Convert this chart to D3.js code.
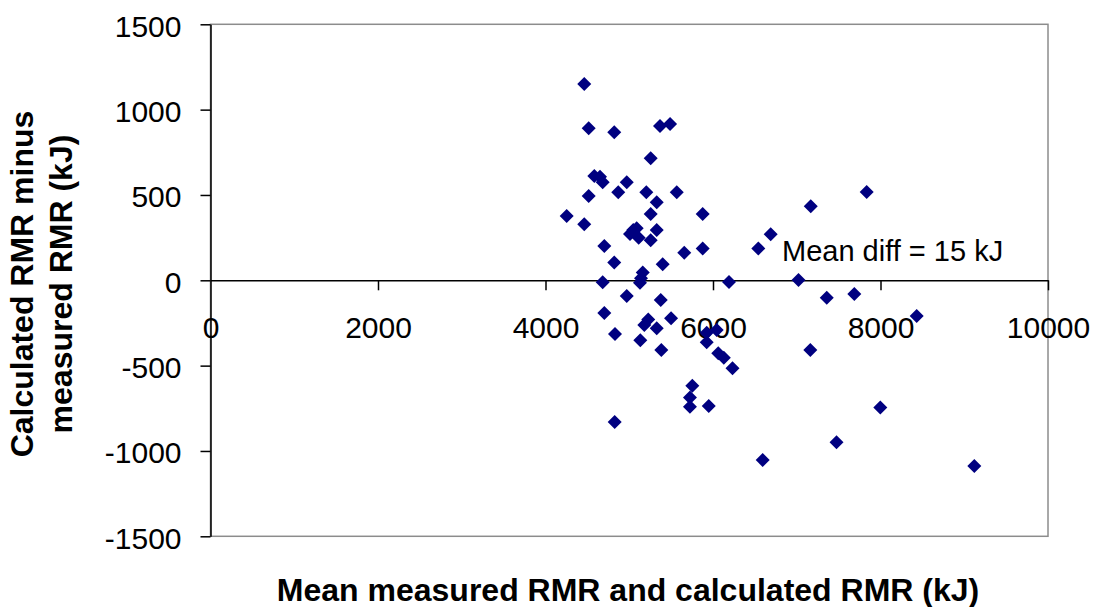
<!DOCTYPE html>
<html>
<head>
<meta charset="utf-8">
<script src="https://cdn.jsdelivr.net/npm/d3@7"></script>
<style>
  body { margin: 0; background: #fff; }
  svg { font-family: "Liberation Sans", Arial, sans-serif; }
  .tick text { font-size: 30px; fill: #000; font-family: "Liberation Sans", Arial, sans-serif; }
</style>
</head>
<body>
<svg id="chart" width="1097" height="607"></svg>
<script>
// mean of measured & calculated RMR (kJ)
const meanRMR = [
  4463, 4516, 4821, 5367, 5487, 5256, 4583, 4651, 4683, 4970,
  4516, 4869, 5204, 5567, 5328, 5256, 5877, 4253, 4463, 7167,
  7835, 5048, 5089, 5009, 5113, 5328, 5256, 4702, 6689, 6541,
  5877, 5657, 4821, 5399, 5161, 5140, 5128, 4683, 6191, 7021,
  4970, 5376, 7358, 7687, 4702, 5227, 5180, 5328, 5499, 4830,
  5132, 8432, 5925, 6044, 5925, 6063, 6129, 6233, 5383, 7162,
  5753, 5725, 5725, 5949, 4826, 7998, 7475, 6593, 9120
];
// calculated minus measured RMR (kJ)
const diffRMR = [
  1150, 891, 867, 904, 916, 715, 611, 607, 574, 574,
  494, 516, 516, 516, 457, 388, 388, 377, 328, 434,
  517, 295, 305, 271, 250, 295, 234, 201, 270, 187,
  187, 162, 105, 94, 45, 12, -14, -12, -10, 2,
  -92, -115, -102, -80, -192, -229, -262, -281, -223, -315,
  -352, -209, -307, -291, -363, -428, -454, -516, -408, -408,
  -618, -686, -741, -737, -830, -746, -949, -1053, -1088
];
const xTicks = [0, 2000, 4000, 6000, 8000, 10000];
const yTicks = [-1500, -1000, -500, 0, 500, 1000, 1500];
const meanDiffLabel = "Mean diff = 15 kJ";

const svg = d3.select("#chart");
const plotLeft = 210.5, plotRight = 1048, plotTop = 24.3, plotBottom = 536.3;

const x = d3.scaleLinear().domain([0, 10000]).range([plotLeft, plotRight]);
const y = d3.scaleLinear().domain([-1500, 1500]).range([plotBottom, plotTop]);
const plain = (d) => String(d); // hyphen minus, no thousands separator

// plot area border (grey)
svg.append("rect")
  .attr("x", plotLeft).attr("y", plotTop)
  .attr("width", plotRight - plotLeft).attr("height", plotBottom - plotTop)
  .attr("fill", "none").attr("stroke", "#8c8c8c").attr("stroke-width", 1.5);

// y axis
const yAxis = svg.append("g")
  .attr("transform", "translate(" + plotLeft + ",0)")
  .call(d3.axisLeft(y).tickValues(yTicks).tickFormat(plain).tickSize(10).tickPadding(19).tickSizeOuter(0));
yAxis.select(".domain").attr("stroke", "#000").attr("stroke-width", 1.5);
yAxis.selectAll(".tick line").attr("stroke", "#000").attr("stroke-width", 1.5);
yAxis.selectAll(".tick text").attr("dy", "0.40em");

// x axis at y = 0
const xAxis = svg.append("g")
  .attr("transform", "translate(0," + y(0) + ")")
  .call(d3.axisBottom(x).tickValues(xTicks).tickFormat(plain).tickSize(10).tickPadding(26).tickSizeOuter(0));
xAxis.select(".domain").attr("stroke", "#000").attr("stroke-width", 1.5);
xAxis.selectAll(".tick line").attr("stroke", "#000").attr("stroke-width", 1.5);
xAxis.selectAll(".tick").filter((d) => d === 0).select("line").remove();

// points
const diamond = d3.symbol().type(d3.symbolSquare).size(98);
svg.append("g")
  .selectAll("path")
  .data(meanRMR.map((m, i) => [m, diffRMR[i]]))
  .join("path")
  .attr("d", diamond)
  .attr("fill", "#000080")
  .attr("transform", (d) => "translate(" + x(d[0]) + "," + y(d[1]) + ") rotate(45)");

// annotation
svg.append("text")
  .attr("x", 782).attr("y", 261)
  .attr("font-size", 29)
  .text(meanDiffLabel);

// axis titles
svg.append("text")
  .attr("x", 628).attr("y", 601)
  .attr("text-anchor", "middle")
  .attr("font-size", 32).attr("font-weight", "bold")
  .text("Mean measured RMR and calculated RMR (kJ)");

const yTitle = svg.append("text")
  .attr("transform", "translate(0,284) rotate(-90)")
  .attr("text-anchor", "middle")
  .attr("font-size", 32).attr("font-weight", "bold");
yTitle.append("tspan").attr("x", 0).attr("y", 33).text("Calculated RMR minus");
yTitle.append("tspan").attr("x", 0).attr("y", 72).text("measured RMR (kJ)");
</script>
</body>
</html>
